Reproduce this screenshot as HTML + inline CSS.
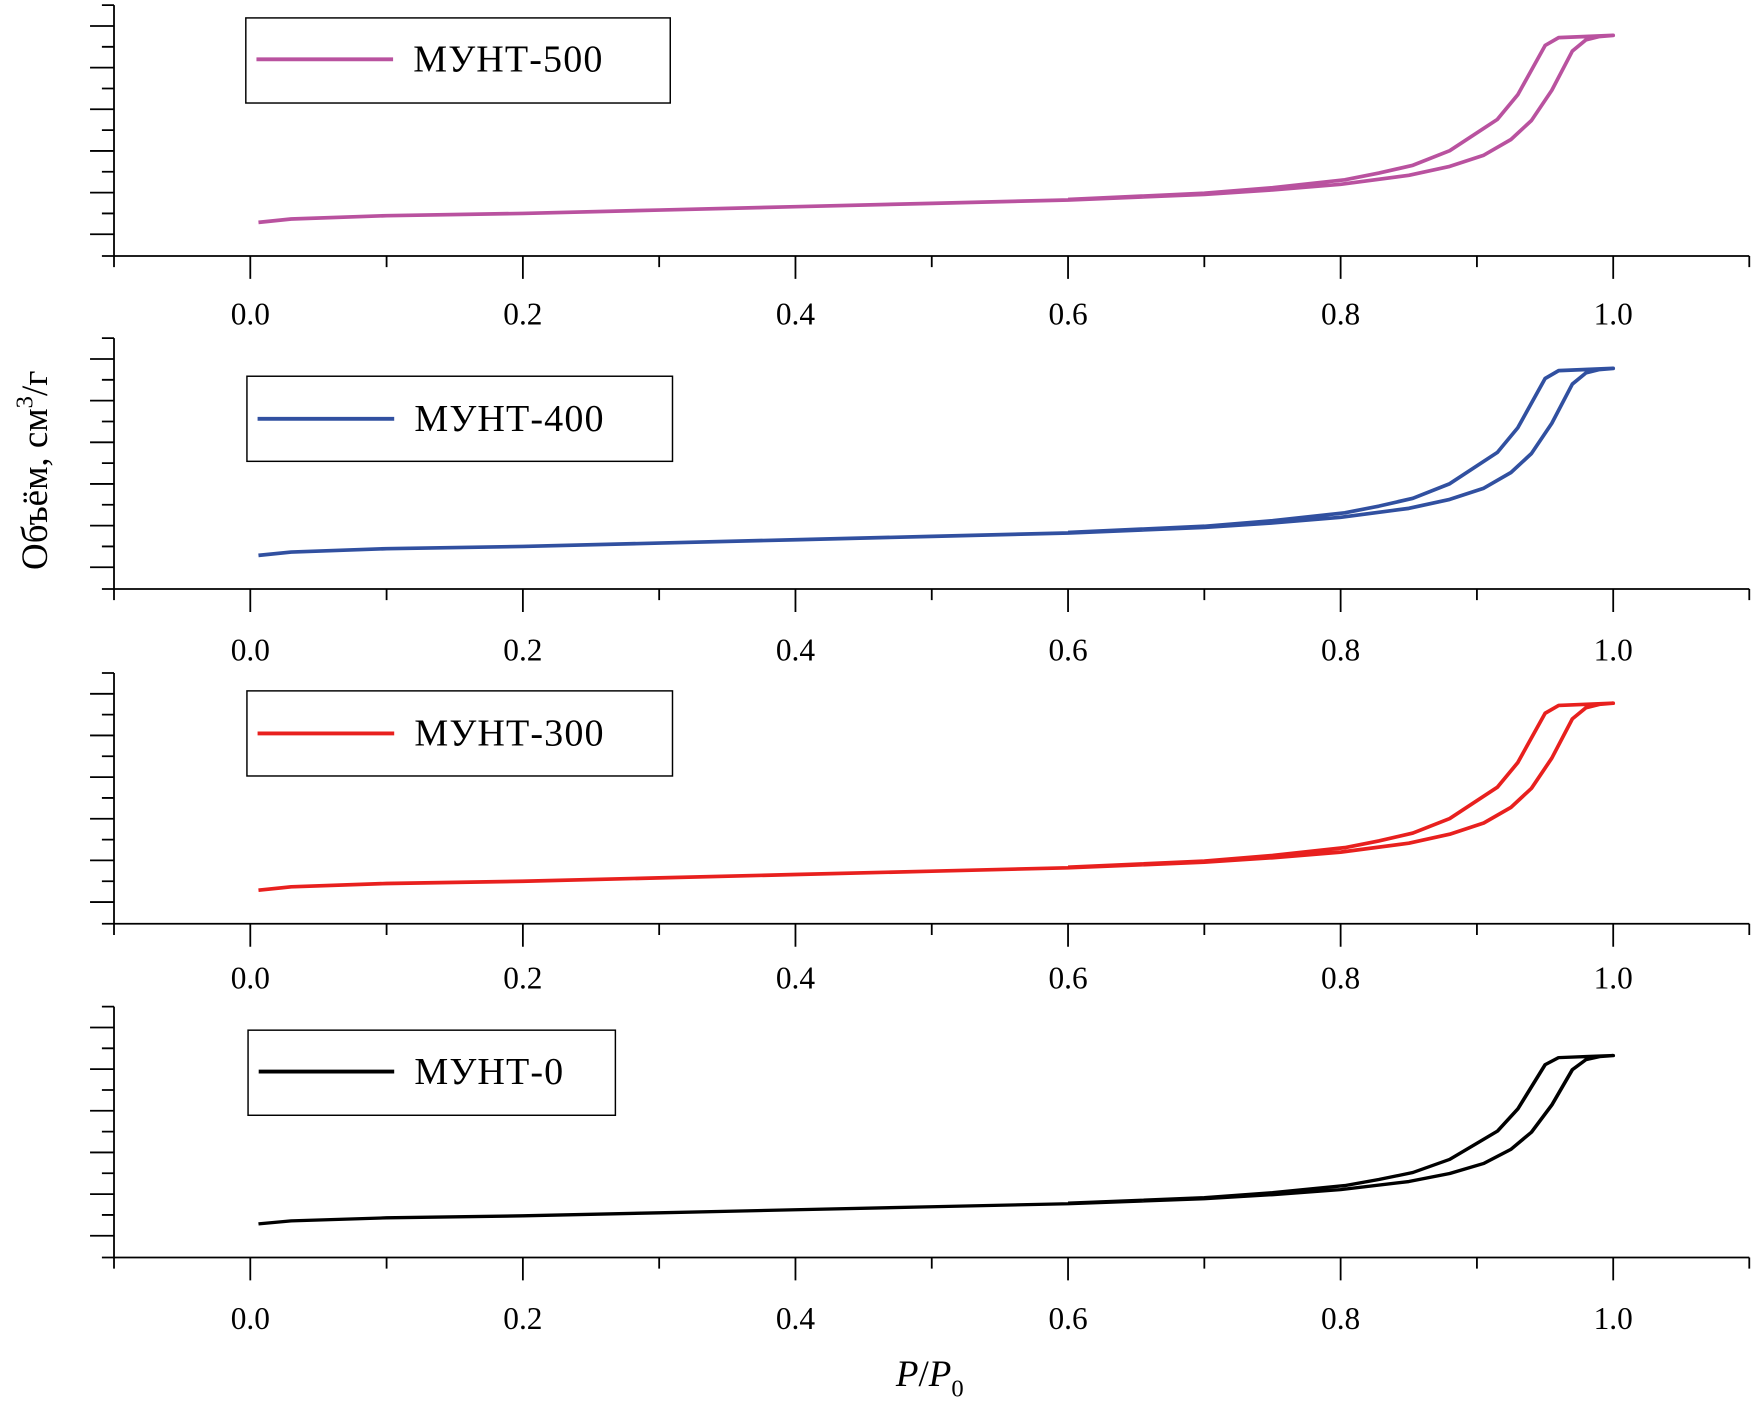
<!DOCTYPE html>
<html><head><meta charset="utf-8"><style>
html,body{margin:0;padding:0;background:#fff;}
svg{display:block;}
text{font-family:"Liberation Serif","DejaVu Serif",serif;fill:#000;}
</style></head><body>
<svg width="1756" height="1412" viewBox="0 0 1568 1261" preserveAspectRatio="none" xmlns="http://www.w3.org/2000/svg">
<defs>
<g id="axes" stroke="#000" stroke-width="1.6" fill="none">
<path d="M101.8,4.6V228.6H1562"/>
<path d="M91,4.6H101.8M80.4,23.2H101.8M91,41.8H101.8M80.4,60.4H101.8M91,79H101.8M80.4,97.6H101.8M91,116.2H101.8M80.4,134.8H101.8M91,153.4H101.8M80.4,172H101.8M91,190.6H101.8M80.4,209.2H101.8M91,228.6H101.8"/>
<path d="M101.8,228.6v10M345.2,228.6v10M588.6,228.6v10M832,228.6v10M1075.4,228.6v10M1318.8,228.6v10M1562,228.6v10"/>
<path d="M223.5,228.6v20.5M466.9,228.6v20.5M710.3,228.6v20.5M953.7,228.6v20.5M1197.1,228.6v20.5M1440.5,228.6v20.5"/>
</g>
<g id="ticks" font-size="28" text-anchor="middle">
<text x="223.5" y="290">0.0</text><text x="466.9" y="290">0.2</text><text x="710.3" y="290">0.4</text><text x="953.7" y="290">0.6</text><text x="1197.1" y="290">0.8</text><text x="1440.5" y="290">1.0</text>
</g>
<path id="curve" fill="none" stroke-width="3.3" stroke-linejoin="round" d="M230.8,198.6L260,195.6L345.2,192.6L466.9,190.6L588.6,187.6L710.3,184.6L832,181.6L953.7,178.6L1075.4,173.6L1136.3,169.6L1197.1,164.6L1258,156.6L1294.5,148.6L1324.9,138.6L1349.2,124.6L1367.5,107.6L1385.7,80.6L1404,45.6L1416.2,35.6L1428.3,32.6L1440.5,31.6L1416.2,32.6L1391.8,33.6L1379.7,40.6L1355.3,84.6L1337.1,106.6L1294.5,134.6L1261.6,147.6L1231.2,154.6L1200.8,160.6L1136.3,167.6L1075.4,172.6L953.7,178.1"/>
</defs>

<use href="#axes"/><use href="#ticks"/>
<use href="#curve" stroke="#b9529f"/>

<g transform="translate(0,297.4)"><use href="#axes"/><use href="#curve" stroke="#3150a0"/></g>
<g transform="translate(0,300)"><use href="#ticks"/></g>

<g transform="translate(0,596.4)"><use href="#axes"/><use href="#curve" stroke="#e8201e"/></g>
<g transform="translate(0,593)"><use href="#ticks"/></g>

<g transform="translate(0,894.4)"><use href="#axes"/>
<g transform="translate(0,19.86) scale(1,0.9)"><use href="#curve" stroke="#000" style="vector-effect:non-scaling-stroke"/></g></g>
<g transform="translate(0,897)"><use href="#ticks"/></g>

<g fill="none" stroke="#000" stroke-width="1.3">
<rect x="219.5" y="16" width="379" height="76"/>
<rect x="220.5" y="336" width="380" height="76"/>
<rect x="220.5" y="617" width="380" height="76"/>
<rect x="221.5" y="920" width="328" height="76"/>
</g>
<g stroke-width="3.5">
<line x1="229" y1="53" x2="351" y2="53" stroke="#b9529f"/>
<line x1="230" y1="374" x2="352" y2="374" stroke="#3150a0"/>
<line x1="230" y1="655" x2="352" y2="655" stroke="#e8201e"/>
<line x1="231" y1="957" x2="352" y2="957" stroke="#000"/>
</g>
<g font-size="34" letter-spacing="1">
<text x="369" y="64">МУНТ-500</text>
<text x="370" y="385">МУНТ-400</text>
<text x="370" y="666">МУНТ-300</text>
<text x="370" y="968">МУНТ-0</text>
</g>

<text transform="translate(42,420) rotate(-90)" font-size="33" text-anchor="middle">Объём, см<tspan font-size="22" dy="-13">3</tspan><tspan dy="13">/г</tspan></text>
<text x="800" y="1238" font-size="33"><tspan font-style="italic">P</tspan>/<tspan font-style="italic">P</tspan><tspan font-size="22" dy="9">0</tspan></text>
</svg>
</body></html>
